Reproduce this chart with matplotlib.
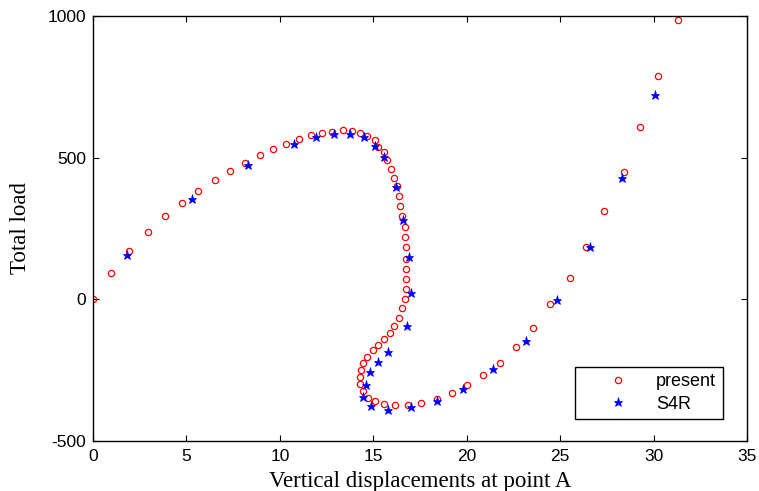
import matplotlib
matplotlib.use("Agg")
import matplotlib.pyplot as plt

present_x = [0, 0.95, 1.93, 2.96, 3.87, 4.75, 5.64, 6.53, 7.35, 8.13, 8.94, 9.65, 10.33,
             11.04, 11.67, 12.26, 12.81, 13.38, 13.86, 14.29, 14.68, 15.07, 15.25, 15.56,
             15.72, 15.96, 16.12, 16.29, 16.36, 16.45, 16.54, 16.68, 16.68, 16.77, 16.75,
             16.75, 16.75, 16.75, 16.68, 16.54, 16.38, 16.13, 15.89, 15.56, 15.25, 15.0,
             14.68, 14.43, 14.36, 14.27, 14.27, 14.43, 14.7, 15.07, 15.56, 16.14, 16.84,
             17.57, 18.39, 19.2, 20.0, 20.89, 21.78, 22.65, 23.56, 24.44, 25.51, 26.38,
             27.35, 28.4, 29.27, 30.25, 31.31]
present_y = [0, 92, 172, 236, 293, 341, 381, 421, 452, 482, 508, 530, 548,
             566, 579, 588, 592, 596, 593, 588, 575, 561, 539, 519,
             491, 460, 429, 400, 364, 328, 293, 254, 219, 185, 143,
             108, 71, 35, 0, -30, -66, -93, -118, -140, -162, -180,
             -203, -224, -250, -273, -298, -324, -347, -360, -368, -373, -372,
             -365, -350, -330, -302, -268, -224, -167, -100, -18, 74, 185,
             312, 450, 609, 788, 986]

s4r_x = [1.84, 5.31, 8.28, 10.78, 11.92, 12.9, 13.77, 14.5, 15.09, 15.57, 16.2, 16.61,
         16.93, 17.03, 16.79, 15.8, 15.25, 14.82, 14.59, 14.47, 14.9, 15.8, 17.02,
         18.39, 19.82, 21.42, 23.15, 24.82, 26.61, 28.33, 30.08]
s4r_y = [155, 353, 475, 549, 572, 583, 583, 572, 542, 503, 396, 279,
         150, 23, -94, -186, -221, -257, -301, -344, -376, -391, -381,
         -358, -318, -247, -147, -2, 185, 427, 720]

xticks = [0, 5, 10, 15, 20, 25, 30, 35]
yticks = [-500, 0, 500, 1000]

fig = plt.figure(figsize=(7.59, 4.91), dpi=100)
ax = fig.add_axes([93/759, 50/491, (747-93)/759, (441-16)/491])

ax.plot(present_x, present_y, linestyle='none', marker='o', markersize=4.5,
        markerfacecolor='none', markeredgecolor='#ff0000', markeredgewidth=0.9,
        label='present')
ax.plot(s4r_x, s4r_y, linestyle='none', marker='*', markersize=6.5,
        color='#0000ff', markeredgewidth=0.5, label='S4R')

ax.set_xlim(0, 35)
ax.set_ylim(-500, 1000)
ax.set_xticks(xticks)
ax.set_yticks(yticks)
ax.set_xticklabels([str(t) for t in xticks], fontfamily='Liberation Sans', fontsize=12.5)
ax.set_yticklabels([str(t) for t in yticks], fontfamily='Liberation Sans', fontsize=12.5)
ax.tick_params(axis='x', direction='in', length=4, width=0.8, top=True, pad=6)
ax.tick_params(axis='y', direction='in', length=4, width=0.8, right=True, pad=5)
for s in ax.spines.values():
    s.set_linewidth(1.0)

ax.set_xlabel('Vertical displacements at point A', fontfamily='Liberation Serif',
              fontsize=16.5, labelpad=5)
ax.set_ylabel('Total load', fontfamily='Liberation Serif', fontsize=16.5, labelpad=12)

leg = ax.legend(loc='upper left', bbox_to_anchor=(575/759, 1-367/491),
                bbox_transform=fig.transFigure, frameon=True, fancybox=False,
                edgecolor='black', framealpha=1, borderpad=0.35, borderaxespad=0,
                handlelength=4.1, handletextpad=0.05, labelspacing=0.3,
                prop={'family': 'Liberation Sans', 'size': 13})
leg.get_frame().set_linewidth(1.0)

fig.savefig('out.png', dpi=100)
